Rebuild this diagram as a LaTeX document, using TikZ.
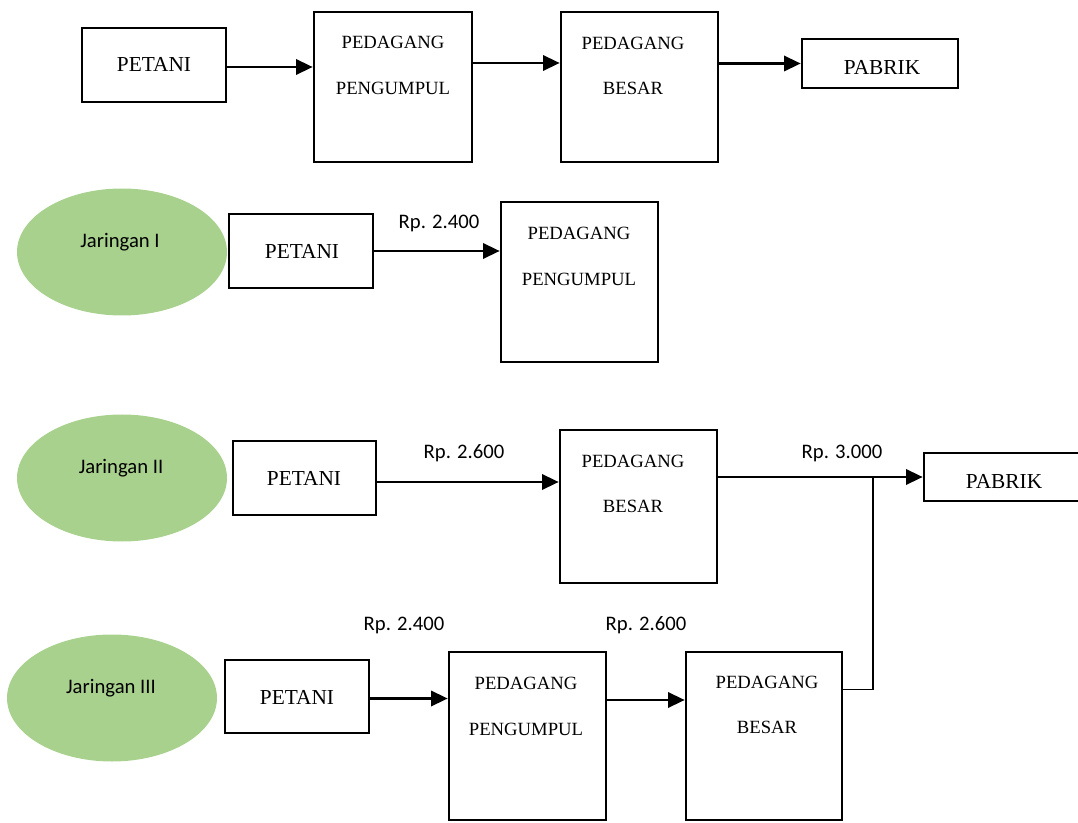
\documentclass[tikz,border=0pt]{standalone}
\usepackage{fontspec}
\setmainfont{Liberation Serif}
\newfontfamily\calfont{Carlito}
\usetikzlibrary{shapes.geometric,arrows.meta,fit}
\definecolor{jgreen}{HTML}{A9D18E}
\begin{document}
\begin{tikzpicture}[x=0.75pt,y=-0.75pt,
  box/.style={draw, line width=2pt, inner sep=0pt},
  big/.style={font=\fontsize{16}{18}\selectfont, inner sep=0pt},
  small/.style={font=\fontsize{14}{16}\selectfont, inner sep=0pt},
  price/.style={font=\calfont\fontsize{15.5}{18}\selectfont, inner sep=0pt},
  jar/.style={ellipse, fill=jgreen, minimum width=157.5pt, minimum height=95.25pt, inner sep=0pt},
  jtext/.style={font=\calfont\fontsize{15.5}{18}\selectfont, inner sep=0pt},
  arr/.style={line width=1.8pt, -{Triangle[length=12.5pt,width=11.5pt]}},
  thin/.style={line width=1pt}]
\useasboundingbox (0,0) rectangle (1078,823);

% ---------- top row ----------
\node[box, fit={(82,28)(226,102)}] (t1) {};
\node[big] (t1a) at (154,64) {PETANI};
\node[box, fit={(314,12)(472,162)}] (t2) {};
\node[small] (t2a) at (393,42) {PEDAGANG};
\node[small] (t2b) at (393,88) {PENGUMPUL};
\node[box, fit={(561,12)(718,162)}] (t3) {};
\node[small] (t3a) at (633,43) {PEDAGANG};
\node[small] (t3b) at (633,88) {BESAR};
\node[box, fit={(802,39)(958,88)}] (t4) {};
\node[big] (t4a) at (882,67) {PABRIK};

\draw[arr] ([yshift=-1.5pt]t1.east) -- ([yshift=-1.5pt]t1.east -| t2.west);
\draw[arr] ([yshift=18pt]t2.east) -- ([yshift=18pt]t2.east -| t3.west);
\draw[arr] (t3.east |- t4.west) -- (t4.west);

% ---------- Jaringan I ----------
\node[jar] (j1) at (122,252) {};
\node[jtext] (j1t) at (120,242) {Jaringan I};
\node[box, fit={(229,214)(373,288)}] (a1) {};
\node[big] (a1a) at (302,251) {PETANI};
\node[box, fit={(501,202)(658,362)}] (a2) {};
\node[small] (a2a) at (579,233) {PEDAGANG};
\node[small] (a2b) at (579,279) {PENGUMPUL};
\draw[arr] (a1.east) -- (a1.east -| a2.west);
\node[price] (p1) at (439,223) {Rp. 2.400};

% ---------- Jaringan II ----------
\node[jar] (j2) at (122,478) {};
\node[jtext] (j2t) at (121,468) {Jaringan II};
\node[box, fit={(233,441)(376,515)}] (b1) {};
\node[big] (b1a) at (304,478) {PETANI};
\node[box, fit={(560,430)(717,583)}] (b2) {};
\node[small] (b2a) at (633,461) {PEDAGANG};
\node[small] (b2b) at (633,506) {BESAR};
\node[box, fit={(924,453)(1080,501)}] (b3) {};
\node[big] (b3a) at (1004,481) {PABRIK};
\draw[arr] ([yshift=-3pt]b1.east) -- ([yshift=-3pt]b1.east -| b2.west);
\node[price] (p2) at (464,453) {Rp. 2.600};
\node[price] (p3) at (842,453) {Rp. 3.000};
\coordinate (jn) at (873,477);
\draw[thin] (b2.east |- b3.west) -- (jn);
\draw[arr] (jn) -- (b3.west);

% ---------- Jaringan III ----------
\node[jar] (j3) at (112,698) {};
\node[jtext] (j3t) at (111,688) {Jaringan III};
\node[box, fit={(225,660)(369,733)}] (c1) {};
\node[big] (c1a) at (297,697) {PETANI};
\node[box, fit={(449,652)(606,820)}] (c2) {};
\node[small] (c2a) at (526,683) {PEDAGANG};
\node[small] (c2b) at (526,729) {PENGUMPUL};
\node[box, fit={(686,652)(842,820)}] (c3) {};
\node[small] (c3a) at (767,682) {PEDAGANG};
\node[small] (c3b) at (767,727) {BESAR};
\draw[arr] ([yshift=-1.5pt]c1.east) -- ([yshift=-1.5pt]c1.east -| c2.west);
\draw[arr] ([yshift=27pt]c2.east) -- ([yshift=27pt]c2.east -| c3.west);
\node[price] (p4) at (404,625) {Rp. 2.400};
\node[price] (p5) at (646,625) {Rp. 2.600};
\draw[thin] ([yshift=35pt]c3.east) -| (jn);
\end{tikzpicture}
\end{document}
